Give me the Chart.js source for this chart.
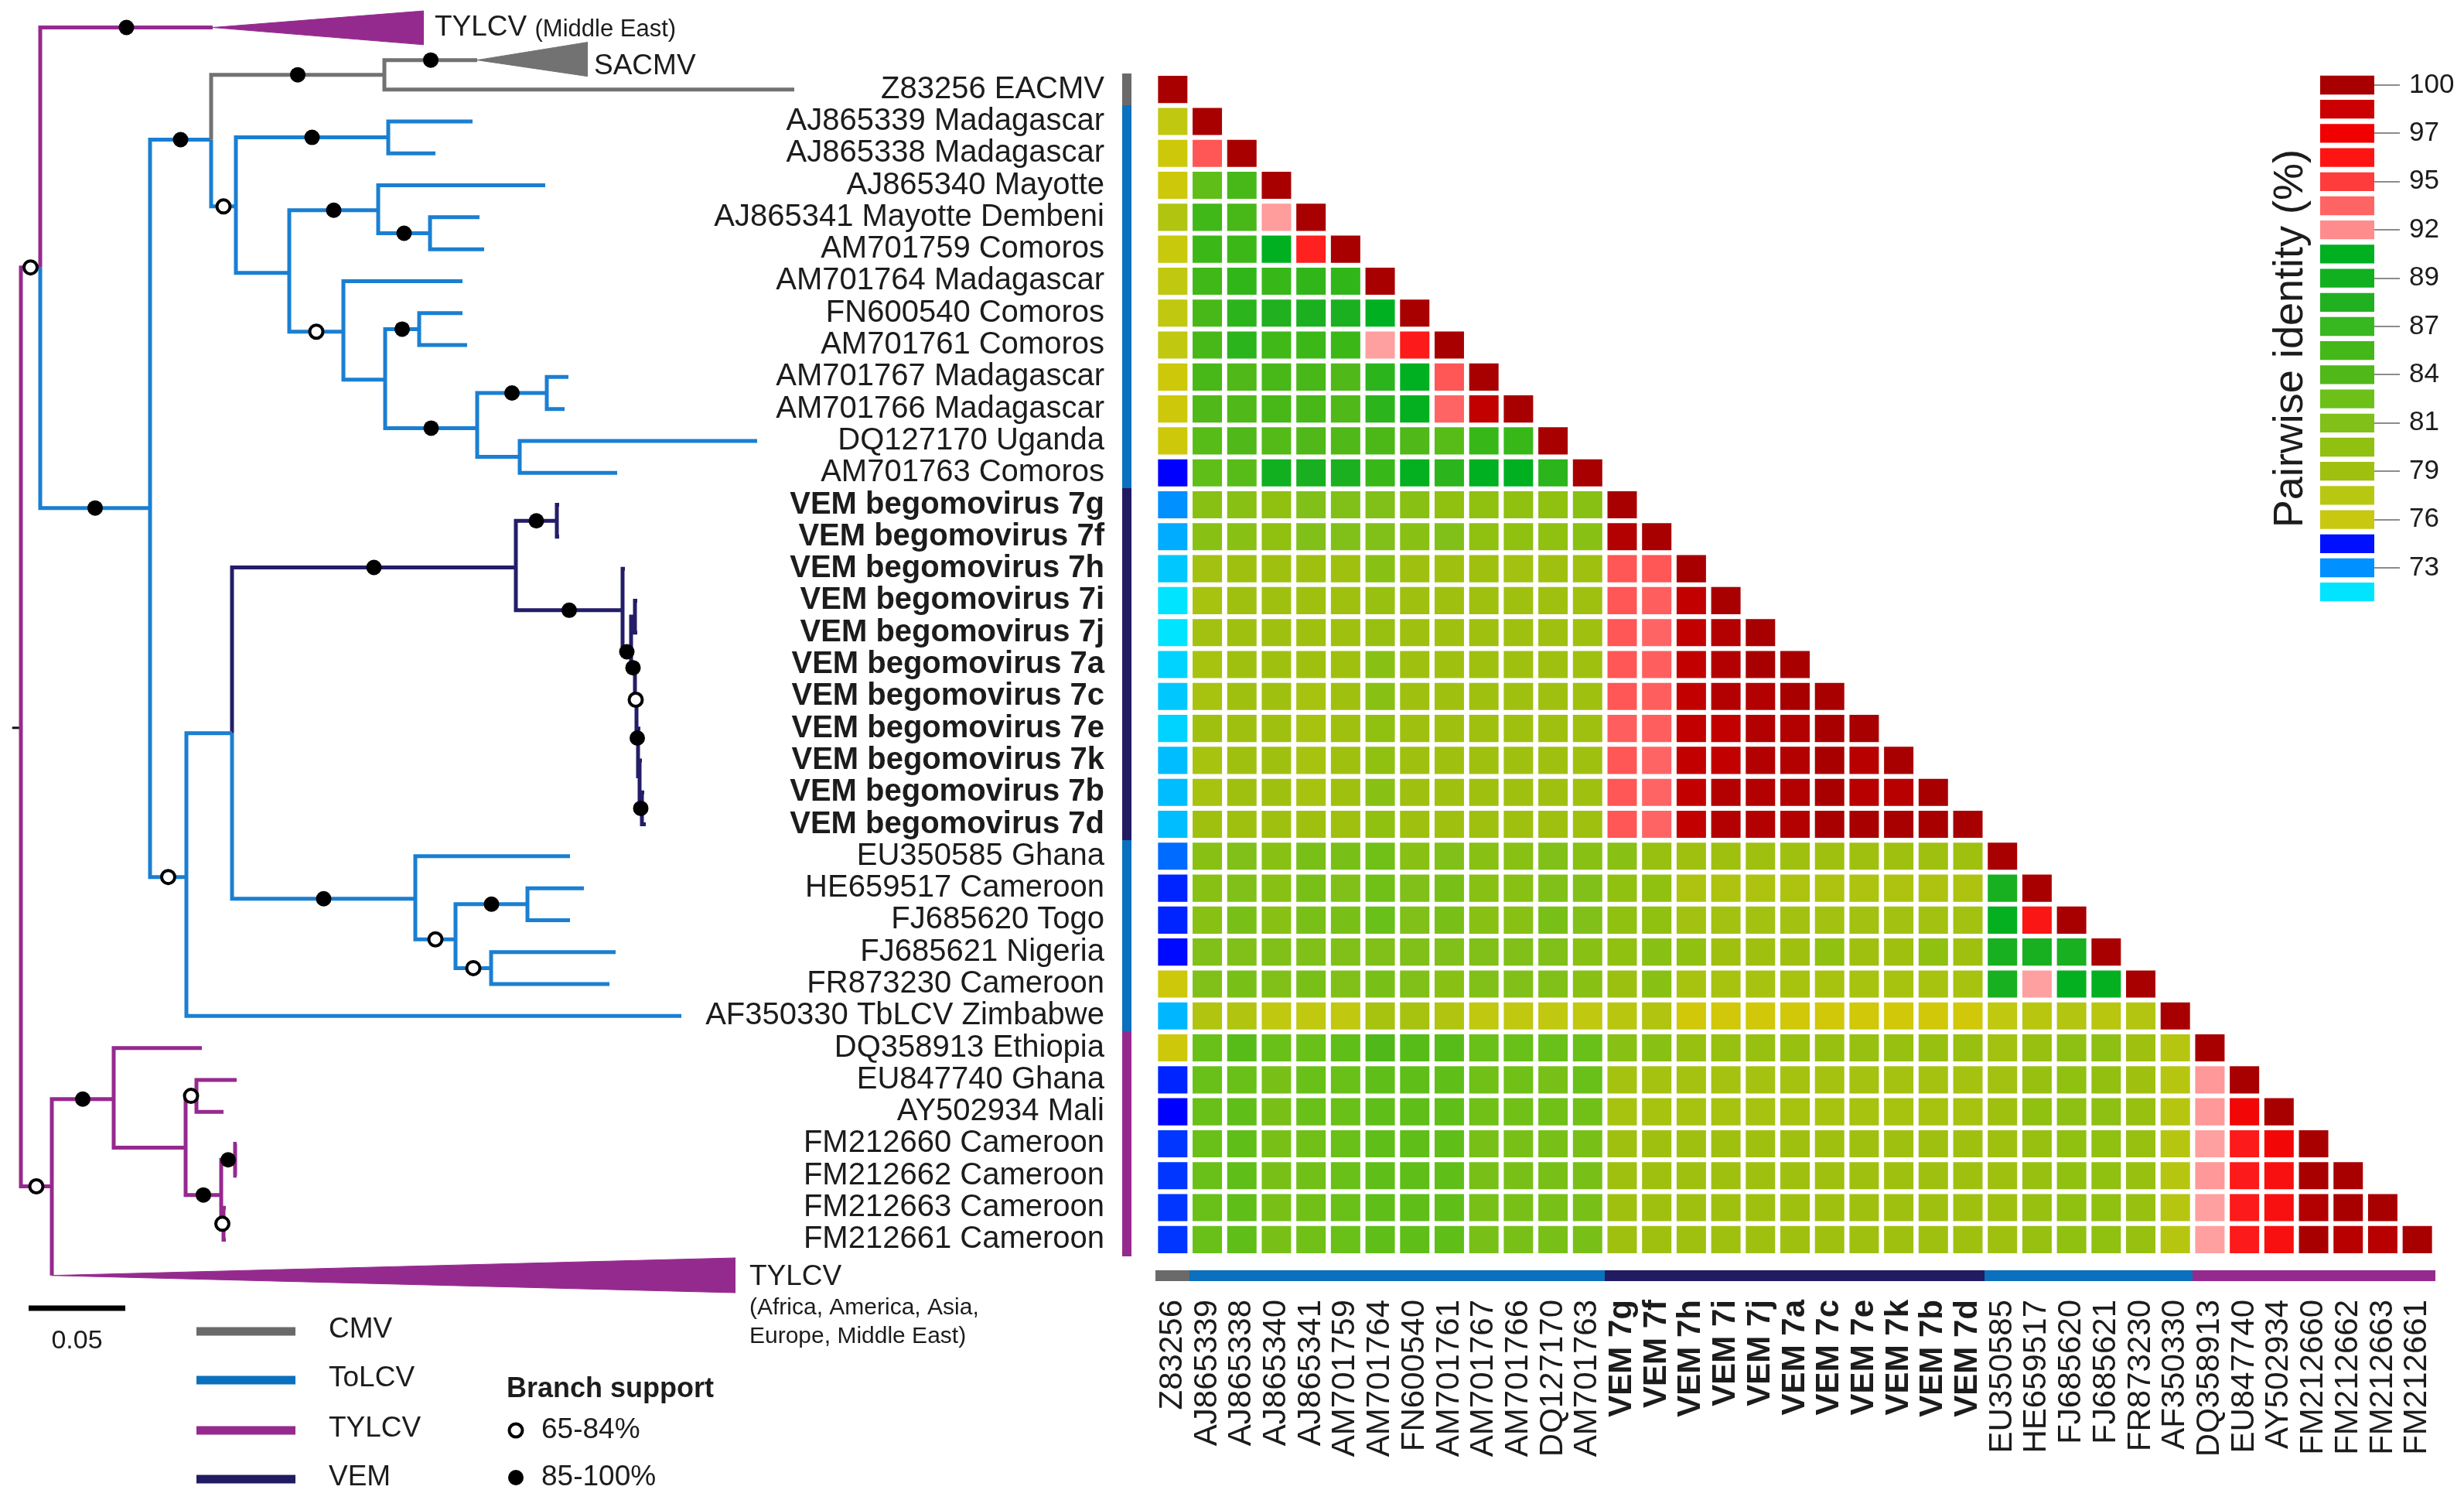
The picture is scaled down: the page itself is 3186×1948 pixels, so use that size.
<!DOCTYPE html>
<html>
<head>
<meta charset="utf-8">
<title>Begomovirus tree and pairwise identity</title>
<script src="https://cdn.jsdelivr.net/npm/chart.js@4.4.1/dist/chart.umd.min.js"></script>
<style>
  html, body { margin: 0; padding: 0; background: #ffffff; }
  body { width: 3186px; height: 1948px; position: relative; overflow: hidden; }
  .box { position: absolute; }
</style>
</head>
<body>
<div class="box" style="left:0; top:0; width:1320px; height:1948px;"><canvas id="treeChart"></canvas></div>
<div class="box" style="left:880px; top:0; width:2306px; height:1948px;"><canvas id="heatChart"></canvas></div>
<div class="box" style="left:2900px; top:0; width:286px; height:900px;"><canvas id="legendChart"></canvas></div>
<script>
// ---- data ----
const rowLabels = [
  'Z83256 EACMV', 'AJ865339 Madagascar', 'AJ865338 Madagascar', 'AJ865340 Mayotte',
  'AJ865341 Mayotte Dembeni', 'AM701759 Comoros', 'AM701764 Madagascar', 'FN600540 Comoros',
  'AM701761 Comoros', 'AM701767 Madagascar', 'AM701766 Madagascar', 'DQ127170 Uganda',
  'AM701763 Comoros', 'VEM begomovirus 7g', 'VEM begomovirus 7f', 'VEM begomovirus 7h',
  'VEM begomovirus 7i', 'VEM begomovirus 7j', 'VEM begomovirus 7a', 'VEM begomovirus 7c',
  'VEM begomovirus 7e', 'VEM begomovirus 7k', 'VEM begomovirus 7b', 'VEM begomovirus 7d',
  'EU350585 Ghana', 'HE659517 Cameroon', 'FJ685620 Togo', 'FJ685621 Nigeria',
  'FR873230 Cameroon', 'AF350330 TbLCV Zimbabwe', 'DQ358913 Ethiopia', 'EU847740 Ghana',
  'AY502934 Mali', 'FM212660 Cameroon', 'FM212662 Cameroon', 'FM212663 Cameroon',
  'FM212661 Cameroon'
];

const colLabels = [
  'Z83256', 'AJ865339', 'AJ865338', 'AJ865340', 'AJ865341', 'AM701759', 'AM701764',
  'FN600540', 'AM701761', 'AM701767', 'AM701766', 'DQ127170', 'AM701763',
  'VEM 7g', 'VEM 7f', 'VEM 7h', 'VEM 7i', 'VEM 7j', 'VEM 7a', 'VEM 7c', 'VEM 7e',
  'VEM 7k', 'VEM 7b', 'VEM 7d', 'EU350585', 'HE659517', 'FJ685620', 'FJ685621',
  'FR873230', 'AF350330', 'DQ358913', 'EU847740', 'AY502934', 'FM212660', 'FM212662',
  'FM212663', 'FM212661'
];

// clade of each sequence (same order for rows and columns)
const rowGroups = [
  'cmv',
  'tolcv', 'tolcv', 'tolcv', 'tolcv', 'tolcv', 'tolcv', 'tolcv', 'tolcv', 'tolcv', 'tolcv', 'tolcv', 'tolcv',
  'vem', 'vem', 'vem', 'vem', 'vem', 'vem', 'vem', 'vem', 'vem', 'vem', 'vem',
  'tolcv', 'tolcv', 'tolcv', 'tolcv', 'tolcv', 'tolcv',
  'tylcv', 'tylcv', 'tylcv', 'tylcv', 'tylcv', 'tylcv', 'tylcv'
];

// pairwise identity (%), lower triangle, row i has i+1 values
const identity = [
  [100],
  [77, 100],
  [76.2, 94, 100],
  [76.2, 83.5, 86, 100],
  [78, 86.5, 86, 92.1, 100],
  [76.5, 86.8, 86.8, 90.5, 96, 100],
  [77, 86.5, 87.3, 87, 87.3, 87.3, 100],
  [77, 86, 87.5, 88, 88.3, 88.3, 90.5, 100],
  [77, 86, 87.5, 86.5, 86.8, 86.8, 92, 96.2, 100],
  [76.2, 86, 85, 86, 86, 85, 87.5, 90.5, 94, 100],
  [76.2, 85, 85, 86, 86, 85, 87.5, 90, 93.5, 98.8, 100],
  [76.2, 84, 85, 84.5, 85, 85, 85.5, 85, 84, 87, 87, 100],
  [74.6, 83.5, 84, 89, 88.5, 88.3, 87, 90, 87.5, 90.5, 90.5, 87.5, 100],
  [73, 80.5, 80.5, 80, 81, 81, 81, 80.5, 80, 80, 80, 80, 80.5, 100],
  [72.5, 80.5, 80.5, 80, 81, 81, 81, 80.5, 81, 80, 80, 80, 80.5, 99.5, 100],
  [72, 78.8, 79, 79, 79, 79, 80.5, 79, 79, 79, 78.8, 79, 79, 94, 94, 100],
  [71.5, 78.5, 79, 79, 79, 79, 79.5, 79, 79, 79, 79, 79, 79, 94, 93.7, 98.8, 100],
  [71.5, 78.8, 79, 79, 79, 79, 79.5, 79, 79, 79, 79, 79, 79, 94, 93.5, 98.8, 99.5, 100],
  [71.8, 78.5, 79, 79, 79, 79, 80.5, 79, 79, 79, 79, 79, 79, 94, 93.7, 98.8, 99.5, 100, 100],
  [72, 78.5, 79, 79, 78.5, 79, 80.5, 79, 79, 79, 79, 79, 79, 94, 93.7, 98.8, 99.5, 99.5, 100, 100],
  [71.8, 79, 79, 79, 78.5, 79, 80, 79, 79, 79, 79, 79, 79, 93.7, 93.7, 98.8, 98.8, 99.5, 99.5, 100, 100],
  [72.2, 78.5, 79, 79, 78.5, 79, 80, 79, 79, 79, 79, 79, 79, 94, 93.5, 98.8, 98.8, 99.5, 99.5, 100, 99.2, 100],
  [72.2, 78.5, 79, 79, 78.5, 79, 80.5, 79, 79, 79, 79, 79, 79, 94, 93.5, 98.8, 99.5, 99.5, 99.5, 100, 99.2, 99.2, 100],
  [72.2, 79, 79, 79, 79, 79, 80, 79, 79, 79, 79, 79, 79, 94, 93.5, 98.8, 99.5, 99.5, 99.5, 100, 100, 100, 100, 100],
  [73.4, 80.5, 81, 80.5, 82, 82, 82.5, 80.5, 81, 80.5, 80.5, 81, 80.5, 80.5, 79.5, 79, 79, 79, 79, 79, 79, 79, 79, 79, 100],
  [74.2, 80.5, 81, 80.5, 82, 81, 82.5, 81, 82, 80.5, 80.5, 81, 81, 80, 80, 78.2, 78.2, 78.2, 78.2, 78.2, 78.2, 78.2, 78.2, 78.2, 88.5, 100],
  [74.2, 80.5, 82, 80.5, 82, 82, 83, 81, 82, 80.5, 80.5, 82, 81, 80, 80, 78.8, 78.8, 78.8, 78.8, 78.8, 78.8, 78.8, 78.8, 78.8, 90, 96.3, 100],
  [74.5, 81, 81, 81, 81, 81, 81, 81, 81, 81, 81, 81, 80.5, 80, 80.5, 80, 79, 79, 79, 80, 79, 79, 80, 79, 88.5, 88.5, 88.5, 100],
  [76.2, 81, 82, 81, 82, 81, 82, 81, 80.5, 81, 81, 81, 80.5, 79.3, 80.5, 78.5, 78.5, 78.5, 78.5, 78.5, 78.5, 78.5, 78.5, 78.5, 88.5, 92, 90, 90, 100],
  [72.3, 78, 78, 77, 77, 77, 78.5, 78.5, 78, 77, 77, 77, 77, 77.5, 78, 76, 76, 76, 76, 76, 76, 76, 76, 76, 77, 77.5, 77.8, 77.5, 77.8, 100],
  [76.2, 83, 84, 83, 83, 83.5, 85, 84, 84, 83, 83, 83, 83, 80.5, 80.5, 79.5, 79.5, 79.5, 79.5, 79.5, 79.5, 79.5, 79.5, 79.5, 78.8, 79.5, 80.2, 80.2, 79, 77.6, 100],
  [74.2, 83, 83, 82, 83, 83, 83.5, 83.5, 83.5, 82.5, 82.5, 82, 83, 78.6, 78.6, 78.6, 78.6, 78.6, 78.6, 78.6, 78.6, 78.6, 78.6, 78.6, 78.8, 79.5, 80, 79.8, 79, 77.6, 92.2, 100],
  [74.6, 83, 83.5, 82, 83, 83, 83.5, 83.5, 83.5, 82.5, 82.5, 82.5, 82.5, 78.5, 78.5, 78.5, 78.5, 78.5, 78.5, 78.5, 78.5, 78.5, 78.5, 78.5, 79, 80, 80.2, 80.2, 79.5, 77.6, 92.2, 96.8, 100],
  [74, 83, 83.5, 82, 82.5, 83, 83.5, 83.5, 83.5, 82, 82, 82, 82, 79, 79, 79, 79, 79, 79, 79, 79, 79, 79, 79, 79, 79.5, 80, 80, 79.5, 77.6, 92, 96.2, 96.8, 100],
  [74, 83, 83.5, 82, 82.5, 83, 83.5, 83.5, 83.5, 82, 82, 82, 82, 79, 79, 79, 79, 79, 79, 79, 79, 79, 79, 79, 79, 79.5, 80, 80, 79.5, 77.6, 92.2, 96.2, 96.5, 100, 100],
  [74, 83, 83.5, 82, 82.5, 83, 83.5, 83.5, 83.5, 82, 82, 82, 82, 79, 79, 79, 79, 79, 79, 79, 79, 79, 79, 79, 79, 79.5, 80, 80, 79.5, 77.6, 92, 96.2, 96.5, 99.5, 100, 100],
  [74, 83, 83.5, 82, 82.5, 83, 83.5, 83.5, 83.5, 82, 82, 82, 82, 79, 79, 79, 79, 79, 79, 79, 79, 79, 79, 79, 79, 79.5, 80, 80, 79.5, 77.6, 92, 96.2, 96.5, 100, 99.2, 99.2, 100]
];

// colour key (top to bottom)
const legendTicks = ['100', '', '97', '', '95', '', '92', '', '89', '', '87', '', '84', '', '81', '', '79', '', '76', '', '73', ''];
const legendColors = ['#a80000', '#cc0000', '#f00000', '#ff1414', '#ff3c3c', '#ff6464', '#ff8c8c',
  '#00b020', '#10b020', '#20b020', '#38b820', '#44b818', '#50b818', '#6cc018', '#80c018', '#90c010',
  '#a0c010', '#b8c810', '#c8c810', '#0010ff', '#0090ff', '#00e4ff'];

// tree: [id, parent, distance, row position, support (2: 85-100%, 1: 65-84%), clade]
const treeNodes = [
  ['root', null, 0, 19.98, 0, 'tylcv'],
  ['A', 'root', 0.010, 5.57, 1],
  ['tylcvME', 'A', 0.0992, -1.94, 2],
  ['C', 'A', 0.0668, 13.1, 2, 'tolcv'],
  ['D', 'C', 0.0984, 1.57, 2],
  ['F', 'D', 0.188, -0.46, 2, 'cmv'],
  ['sacmv', 'F', 0.236, -0.92, 2],
  ['Z83256', 'F', 0.400, 0, 0],
  ['G', 'D', 0.1112, 3.66, 1],
  ['H', 'G', 0.190, 1.5, 2],
  ['AJ865339', 'H', 0.2336, 1, 0],
  ['AJ865338', 'H', 0.2144, 2, 0],
  ['I', 'G', 0.1388, 5.74, 0],
  ['J', 'I', 0.1848, 3.78, 2],
  ['AJ865340', 'J', 0.2712, 3, 0],
  ['L', 'J', 0.2116, 4.5, 2],
  ['AJ865341', 'L', 0.2372, 4, 0],
  ['AM701759', 'L', 0.2396, 5, 0],
  ['K', 'I', 0.1668, 7.58, 1],
  ['AM701764', 'K', 0.2284, 6, 0],
  ['M', 'K', 0.1884, 9.08, 0],
  ['N', 'M', 0.206, 7.5, 2],
  ['FN600540', 'N', 0.2284, 7, 0],
  ['AM701761', 'N', 0.2308, 8, 0],
  ['O', 'M', 0.236, 10.6, 2],
  ['P', 'O', 0.272, 9.5, 2],
  ['AM701767', 'P', 0.2832, 9, 0],
  ['AM701766', 'P', 0.2812, 10, 0],
  ['Q', 'O', 0.258, 11.5, 0],
  ['DQ127170', 'Q', 0.3808, 11, 0],
  ['AM701763', 'Q', 0.3084, 12, 0],
  ['E', 'C', 0.0856, 24.65, 1],
  ['R', 'E', 0.1092, 20.15, 0],
  ['S', 'R', 0.256, 14.96, 2, 'vem'],
  ['T', 'S', 0.2772, 13.5, 2],
  ['VEM7g', 'T', 0.2784, 13, 0],
  ['VEM7f', 'T', 0.2784, 14, 0],
  ['U', 'S', 0.3112, 16.3, 2],
  ['VEM7h', 'U', 0.3124, 15, 0],
  ['V', 'U', 0.3156, 17.6, 2],
  ['W', 'V', 0.3176, 16.5, 0],
  ['VEM7i', 'W', 0.3188, 16, 0],
  ['VEM7j', 'W', 0.3188, 17, 0],
  ['Y1', 'V', 0.3176, 18.1, 2],
  ['VEM7a', 'Y1', 0.3188, 18, 0],
  ['Y2', 'Y1', 0.3184, 19.1, 1],
  ['VEM7c', 'Y2', 0.3196, 19, 0],
  ['Y3', 'Y2', 0.3192, 20.3, 2],
  ['VEM7e', 'Y3', 0.3204, 20, 0],
  ['Y4', 'Y3', 0.3200, 21.5, 0],
  ['VEM7k', 'Y4', 0.3212, 21, 0],
  ['Y5', 'Y4', 0.3212, 22.5, 2],
  ['VEM7b', 'Y5', 0.3224, 22, 0],
  ['VEM7d', 'Y5', 0.3232, 23, 0],
  ['X', 'R', 0.204, 25.33, 2, 'tolcv'],
  ['EU350585', 'X', 0.284, 24, 0],
  ['Yx', 'X', 0.2248, 26.6, 1],
  ['Z', 'Yx', 0.262, 25.5, 2],
  ['HE659517', 'Z', 0.2912, 25, 0],
  ['FJ685620', 'Z', 0.284, 26, 0],
  ['AA', 'Yx', 0.2432, 27.5, 1],
  ['FJ685621', 'AA', 0.3076, 27, 0],
  ['FR873230', 'AA', 0.3044, 28, 0],
  ['AF350330', 'E', 0.3416, 29, 0],
  ['B', 'root', 0.016, 34.33, 1],
  ['BB', 'B', 0.048, 31.6, 2],
  ['DQ358913', 'BB', 0.0936, 30, 0],
  ['CC', 'BB', 0.0852, 33.12, 0],
  ['DD', 'CC', 0.0908, 31.5, 1],
  ['EU847740', 'DD', 0.1116, 31, 0],
  ['AY502934', 'DD', 0.1048, 32, 0],
  ['EE', 'CC', 0.1036, 34.6, 2],
  ['FF', 'EE', 0.1108, 33.5, 2],
  ['FM212660', 'FF', 0.1116, 33, 0],
  ['FM212662', 'FF', 0.1116, 34, 0],
  ['GG', 'EE', 0.1048, 35.5, 1],
  ['FM212663', 'GG', 0.106, 35, 0],
  ['FM212661', 'GG', 0.106, 36, 0],
  ['tylcvAll', 'B', 0.016, 37.12, 0]
];

// collapsed clades: [node, distance of wide end, top row, bottom row]
const collapsedClades = [
  ['tylcvME', 0.2084, -2.46, -1.40],
  ['sacmv', 0.2932, -1.48, -0.41],
  ['tylcvAll', 0.3696, 36.57, 37.66]
];

// ---- helpers ----
const FONT = "'Liberation Sans', Arial, Helvetica, sans-serif";
const TEXT = '#1c1c1c';
const cladeColors = { cmv: '#727272', tolcv: '#1a7fd2', tylcv: '#952a8e', vem: '#241d68' };
const barColors = { cmv: '#6a6a6a', tolcv: '#0b70bd', tylcv: '#952a8e', vem: '#211b62' };

const colorStops = [
  [71.5, '#00e4ff'], [73, '#0090ff'], [74.6, '#0000ff'], [76, '#d0c808'], [77, '#c0c810'],
  [78, '#b0c410'], [79, '#a0c010'], [80, '#90c010'], [81, '#80c018'], [82, '#78c018'],
  [83, '#68c018'], [84, '#58bc18'], [85, '#50b818'], [86, '#48b818'], [87, '#38b818'],
  [88, '#20b020'], [89, '#10b020'], [90.5, '#00b020'], [92, '#ffa0a0'], [93.5, '#ff6464'],
  [95, '#ff3a3a'], [96, '#ff2020'], [97, '#f00000'], [98.5, '#c80000'], [100, '#a80000']
];

function hexRgb(h) {
  return [parseInt(h.slice(1, 3), 16), parseInt(h.slice(3, 5), 16), parseInt(h.slice(5, 7), 16)];
}

function identityColor(v) {
  if (v <= colorStops[0][0]) return colorStops[0][1];
  for (let k = 1; k < colorStops.length; k++) {
    if (v <= colorStops[k][0]) {
      const [v0, c0] = colorStops[k - 1], [v1, c1] = colorStops[k];
      const t = (v - v0) / (v1 - v0);
      const a = hexRgb(c0), b = hexRgb(c1);
      return 'rgb(' + a.map((x, i) => Math.round(x + (b[i] - x) * t)).join(',') + ')';
    }
  }
  return colorStops[colorStops.length - 1][1];
}

// ---- tree ----
const nodes = {};
treeNodes.forEach(([id, parent, d, r, support, clade]) => {
  nodes[id] = { id, parent, d, r, support, clade: clade || (parent ? nodes[parent].clade : 'tylcv') };
});

const treeDatasets = [];
const filledDots = [], openDots = [];
Object.keys(cladeColors).forEach(k => {
  const pts = [];
  Object.values(nodes).forEach(n => {
    if (!n.parent || n.clade !== k) return;
    const p = nodes[n.parent];
    pts.push({ x: p.d, y: p.r }, { x: p.d, y: n.r }, { x: n.d, y: n.r }, { x: n.d, y: null });
  });
  treeDatasets.push({
    data: pts, borderColor: cladeColors[k], borderWidth: 5, pointRadius: 0,
    spanGaps: false, borderJoinStyle: 'miter', borderCapStyle: 'butt', order: 2
  });
});
Object.values(nodes).forEach(n => {
  if (!n.parent || !n.support) return;
  const p = nodes[n.parent];
  (n.support === 2 ? filledDots : openDots).push({ x: (p.d + n.d) / 2, y: n.r });
});

// collapsed clades as filled triangles (fill between top and bottom edges)
collapsedClades.forEach(([id, end, top, bottom]) => {
  const n = nodes[id];
  const col = cladeColors[n.clade];
  treeDatasets.push({
    data: [{ x: n.d, y: n.r }, { x: end, y: top }], borderColor: col, borderWidth: 1,
    pointRadius: 0, order: 1
  });
  treeDatasets.push({
    data: [{ x: n.d, y: n.r }, { x: end, y: bottom }], borderColor: col, borderWidth: 1,
    pointRadius: 0, fill: '-1', backgroundColor: col, order: 1
  });
});

// root stub
treeDatasets.push({
  data: [{ x: -0.0045, y: nodes.root.r }, { x: 0, y: nodes.root.r }],
  borderColor: '#111', borderWidth: 3, pointRadius: 0, order: 2
});
treeDatasets.push({
  data: filledDots, showLine: false, pointRadius: 10, pointBackgroundColor: '#000',
  pointBorderColor: '#000', pointBorderWidth: 0, order: 0
});
treeDatasets.push({
  data: openDots, showLine: false, pointRadius: 8.5, pointBackgroundColor: '#fff',
  pointBorderColor: '#000', pointBorderWidth: 4, order: 0
});

const treeLabels = {
  id: 'treeLabels',
  afterDraw(chart) {
    const { ctx, scales: { x, y } } = chart;
    ctx.save();
    ctx.fillStyle = TEXT;
    ctx.textBaseline = 'middle';
    ctx.textAlign = 'left';

    // collapsed clade labels
    ctx.font = '37px ' + FONT;
    let lx = x.getPixelForValue(collapsedClades[0][1]) + 14;
    const ly = y.getPixelForValue(nodes.tylcvME.r);
    ctx.fillText('TYLCV', lx, ly);
    lx += ctx.measureText('TYLCV ').width;
    ctx.font = '31px ' + FONT;
    ctx.fillText('(Middle East)', lx, ly + 3);

    ctx.font = '37px ' + FONT;
    ctx.fillText('SACMV', x.getPixelForValue(collapsedClades[1][1]) + 8, y.getPixelForValue(nodes.sacmv.r) + 8);

    const bx = x.getPixelForValue(collapsedClades[2][1]) + 18;
    const by = y.getPixelForValue(nodes.tylcvAll.r);
    ctx.fillText('TYLCV', bx, by + 2);
    ctx.font = '30px ' + FONT;
    ctx.fillText('(Africa, America, Asia,', bx, by + 42);
    ctx.fillText('Europe, Middle East)', bx, by + 79);

    // scale bar
    const sy = 1691;
    ctx.strokeStyle = '#000';
    ctx.lineWidth = 7;
    ctx.beginPath();
    ctx.moveTo(x.getPixelForValue(0.004), sy);
    ctx.lineTo(x.getPixelForValue(0.054), sy);
    ctx.stroke();
    ctx.font = '34px ' + FONT;
    ctx.textAlign = 'center';
    ctx.fillText('0.05', (x.getPixelForValue(0.004) + x.getPixelForValue(0.054)) / 2, 1734);

    // clade legend
    ctx.textAlign = 'left';
    ctx.font = '37px ' + FONT;
    [['CMV', 'cmv', 1721], ['ToLCV', 'tolcv', 1784], ['TYLCV', 'tylcv', 1849], ['VEM', 'vem', 1912]]
      .forEach(([t, k, yy]) => {
        ctx.strokeStyle = barColors[k];
        ctx.lineWidth = 11;
        ctx.beginPath();
        ctx.moveTo(254, yy);
        ctx.lineTo(382, yy);
        ctx.stroke();
        ctx.fillText(t, 425, yy - 2);
      });

    // branch support legend
    ctx.font = 'bold 36px ' + FONT;
    ctx.fillText('Branch support', 655, 1796);
    ctx.font = '37px ' + FONT;
    ctx.beginPath();
    ctx.arc(667, 1849, 8.5, 0, Math.PI * 2);
    ctx.fillStyle = '#fff';
    ctx.fill();
    ctx.lineWidth = 4;
    ctx.strokeStyle = '#000';
    ctx.stroke();
    ctx.fillStyle = TEXT;
    ctx.fillText('65-84%', 700, 1849);
    ctx.beginPath();
    ctx.arc(667, 1910, 10, 0, Math.PI * 2);
    ctx.fillStyle = '#000';
    ctx.fill();
    ctx.fillStyle = TEXT;
    ctx.fillText('85-100%', 700, 1910);
    ctx.restore();
  }
};

new Chart(document.getElementById('treeChart'), {
  type: 'line',
  data: { datasets: treeDatasets },
  options: {
    responsive: true,
    maintainAspectRatio: false,
    animation: false,
    events: [],
    layout: { padding: 0, autoPadding: false },
    scales: {
      x: { type: 'linear', display: false, min: -27 / 2500, max: (1320 - 27) / 2500 },
      y: { type: 'linear', display: false, reverse: true, min: -115.65 / 41.3, max: (1948 - 115.65) / 41.3 }
    },
    plugins: { legend: { display: false }, tooltip: { enabled: false } }
  },
  plugins: [treeLabels]
});

// ---- heatmap ----
const isVem = i => rowGroups[i] === 'vem';

const heatDatasets = colLabels.map((c, j) => ({
  label: c,
  data: rowLabels.map((r, i) => (i >= j ? [j - 0.425, j + 0.425] : null)),
  backgroundColor: rowLabels.map((r, i) => (i >= j ? identityColor(identity[i][j]) : 'rgba(0,0,0,0)')),
  borderWidth: 0,
  grouped: false,
  barPercentage: 0.85,
  categoryPercentage: 1
}));

const groupBars = {
  id: 'groupBars',
  afterDraw(chart) {
    const { ctx, chartArea: a, scales: { x, y } } = chart;
    const half = (y.getPixelForValue(1) - y.getPixelForValue(0)) / 2;
    ctx.save();
    rowGroups.forEach((g, i) => {
      const c = y.getPixelForValue(i);
      ctx.fillStyle = barColors[g];
      ctx.fillRect(a.left - 43, Math.floor(c - half), 12, Math.ceil(2 * half) + 1);
    });
    rowGroups.forEach((g, j) => {
      const l = x.getPixelForValue(j - 0.5), r = x.getPixelForValue(j + 0.5);
      ctx.fillStyle = barColors[g];
      ctx.fillRect(Math.floor(l), a.bottom + 19, Math.ceil(r - l) + 1, 14);
    });
    ctx.restore();
  }
};

new Chart(document.getElementById('heatChart'), {
  type: 'bar',
  data: { labels: rowLabels, datasets: heatDatasets },
  options: {
    indexAxis: 'y',
    responsive: true,
    maintainAspectRatio: false,
    animation: false,
    events: [],
    layout: { padding: { top: 95, right: 38, left: 0, bottom: 0 }, autoPadding: false },
    scales: {
      y: {
        type: 'category',
        grid: { display: false },
        border: { display: false },
        ticks: {
          color: TEXT,
          padding: 58,
          autoSkip: false,
          font: ctx => ({ family: FONT, size: 40, weight: isVem(ctx.index) ? 'bold' : 'normal' })
        },
        afterFit(scale) { scale.width = 614; scale.paddingTop = 0; scale.paddingBottom = 0; }
      },
      x: {
        type: 'linear',
        position: 'bottom',
        min: -0.5,
        max: 36.5,
        grid: { display: false },
        border: { display: false },
        afterBuildTicks(scale) { scale.ticks = colLabels.map((l, i) => ({ value: i })); },
        ticks: {
          autoSkip: false,
          minRotation: 90,
          maxRotation: 90,
          padding: 49,
          color: TEXT,
          callback: v => colLabels[v],
          font: ctx => ({ family: FONT, size: 42, weight: isVem(ctx.index) ? 'bold' : 'normal' })
        },
        afterFit(scale) { scale.height = 325; scale.paddingLeft = 0; scale.paddingRight = 0; }
      }
    },
    plugins: { legend: { display: false }, tooltip: { enabled: false } }
  },
  plugins: [groupBars]
});

// ---- colour key ----
new Chart(document.getElementById('legendChart'), {
  type: 'bar',
  data: {
    labels: legendTicks,
    datasets: [{
      data: legendTicks.map(() => 1),
      backgroundColor: legendColors,
      borderWidth: 0,
      barPercentage: 0.78,
      categoryPercentage: 1
    }]
  },
  options: {
    indexAxis: 'y',
    responsive: true,
    maintainAspectRatio: false,
    animation: false,
    events: [],
    layout: { padding: { top: 94.4, bottom: 119.2, left: 0, right: 0 }, autoPadding: false },
    scales: {
      x: { display: false, min: 0, max: 1 },
      y: {
        type: 'category',
        position: 'right',
        border: { display: false },
        grid: {
          drawOnChartArea: false,
          offset: false,
          tickLength: 33,
          lineWidth: 2,
          tickColor: ctx => (legendTicks[ctx.index] ? '#8c8c8c' : 'rgba(0,0,0,0)')
        },
        ticks: { autoSkip: false, padding: 12, color: TEXT, font: { family: FONT, size: 35 } },
        afterFit(scale) { scale.width = 116; scale.paddingTop = 0; scale.paddingBottom = 0; }
      },
      yTitle: {
        type: 'linear',
        position: 'left',
        grid: { display: false },
        border: { display: false },
        ticks: { display: false },
        title: {
          display: true, text: 'Pairwise identity (%)', color: TEXT,
          padding: { top: 30, bottom: 0 }, font: { family: FONT, size: 54 }
        },
        afterFit(scale) { scale.width = 100; }
      }
    },
    plugins: { legend: { display: false }, tooltip: { enabled: false } }
  }
});
</script>
</body>
</html>
